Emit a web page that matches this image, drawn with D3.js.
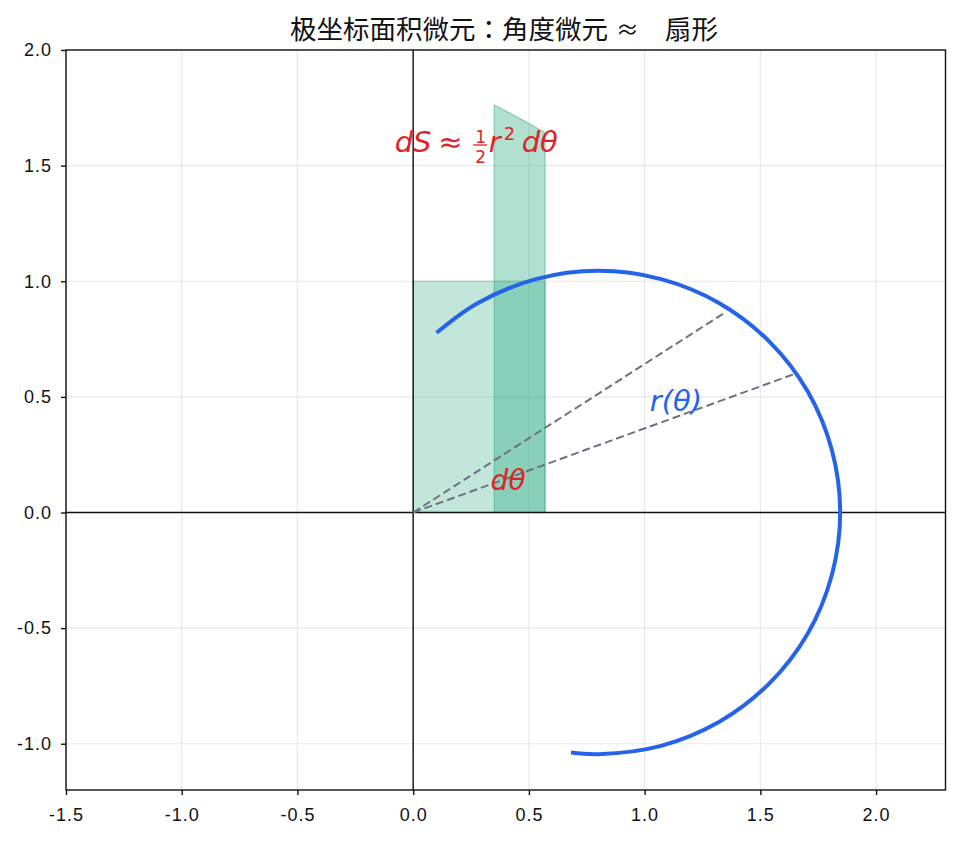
<!DOCTYPE html>
<html>
<head>
<meta charset="utf-8">
<script src="https://cdn.jsdelivr.net/npm/d3@7"></script>
<style>
  body { margin: 0; background: #fff; }
  svg { display: block; }
</style>
</head>
<body>
<div id="chart"></div>
<script>
// tick values
const xTicks = [-1.5, -1.0, -0.5, 0.0, 0.5, 1.0, 1.5, 2.0];
const yTicks = [-1.0, -0.5, 0.0, 0.5, 1.0, 1.5, 2.0];

// r(theta) curve, points
const curveX = [0.101, 0.278, 0.530, 0.800, 1.071, 1.323, 1.539, 1.705, 1.809, 1.845, 1.809, 1.705, 1.539, 1.323, 1.071, 0.800, 0.682];
const curveY = [0.777, 0.905, 1.009, 1.045, 1.009, 0.905, 0.739, 0.523, 0.270, 0.000, -0.270, -0.523, -0.739, -0.905, -1.009, -1.045, -1.038];

// two rays bounding d-theta
const rayX = [1.352, 1.650];
const rayY = [0.868, 0.600];

// shaded regions
const boxX = [0, 0.57];
const boxY = [0, 1.0];
const stripX = [0.35, 0.35, 0.46, 0.57, 0.57];
const stripY = [0, 1.762, 1.705, 1.643, 0];

const W = 960, H = 841;
const m = { left: 66, right: 945.5, top: 50, bottom: 790 };

const x = d3.scaleLinear().domain([-1.5, 2.3]).range([m.left, m.right]);
const y = d3.scaleLinear().domain([-1.2, 2.0]).range([m.bottom, m.top]);

const svg = d3.select("#chart").append("svg")
  .attr("width", W).attr("height", H);

const tickFont = "'Liberation Sans', Arial, sans-serif";
const fmt = d => d.toFixed(1);

// grid
const grid = svg.append("g");
grid.selectAll("line.gx").data(xTicks).join("line")
  .attr("x1", d => x(d)).attr("x2", d => x(d))
  .attr("y1", m.top).attr("y2", m.bottom)
  .attr("stroke", "#e8e8e8").attr("stroke-width", 1.2);
grid.selectAll("line.gy").data(yTicks).join("line")
  .attr("y1", d => y(d)).attr("y2", d => y(d))
  .attr("x1", m.left).attr("x2", m.right)
  .attr("stroke", "#e8e8e8").attr("stroke-width", 1.2);

const teal = "#26a67c";

// rectangle under the curve
svg.append("rect")
  .attr("x", x(boxX[0])).attr("y", y(boxY[1]))
  .attr("width", x(boxX[1]) - x(boxX[0]))
  .attr("height", y(boxY[0]) - y(boxY[1]))
  .attr("fill", teal).attr("fill-opacity", 0.28)
  .attr("stroke", teal).attr("stroke-opacity", 0.35).attr("stroke-width", 1.2);

// thin strip
const stripPts = stripX.map((d, i) => [x(d), y(stripY[i])]);
svg.append("path")
  .attr("d", d3.line()(stripPts) + "Z")
  .attr("fill", teal).attr("fill-opacity", 0.36)
  .attr("stroke", teal).attr("stroke-opacity", 0.45).attr("stroke-width", 1.2);

// axes lines through origin
svg.append("line")
  .attr("x1", m.left).attr("x2", m.right).attr("y1", y(0)).attr("y2", y(0))
  .attr("stroke", "#111").attr("stroke-width", 1.4);
svg.append("line")
  .attr("x1", x(0)).attr("x2", x(0)).attr("y1", m.top).attr("y2", m.bottom)
  .attr("stroke", "#111").attr("stroke-width", 1.4);

// rays
rayX.forEach((d, i) => {
  svg.append("line")
    .attr("x1", x(0)).attr("y1", y(0))
    .attr("x2", x(d)).attr("y2", y(rayY[i]))
    .attr("stroke", "#6b7280").attr("stroke-width", 2)
    .attr("stroke-dasharray", "8,4");
});

// curve
const curvePts = curveX.map((d, i) => [x(d), y(curveY[i])]);
svg.append("path")
  .attr("d", d3.line().curve(d3.curveCatmullRom)(curvePts))
  .attr("fill", "none").attr("stroke", "#2563eb").attr("stroke-width", 4);

// frame
svg.append("rect")
  .attr("x", m.left).attr("y", m.top)
  .attr("width", m.right - m.left).attr("height", m.bottom - m.top)
  .attr("fill", "none").attr("stroke", "#111").attr("stroke-width", 1.4);

// axes
const xAxis = svg.append("g").attr("transform", `translate(0,${m.bottom})`)
  .call(d3.axisBottom(x).tickValues(xTicks).tickFormat(fmt).tickSize(5).tickPadding(13));
const yAxis = svg.append("g").attr("transform", `translate(${m.left},0)`)
  .call(d3.axisLeft(y).tickValues(yTicks).tickFormat(fmt).tickSize(5).tickPadding(9));
[xAxis, yAxis].forEach(a => {
  a.select(".domain").remove();
  a.selectAll("line").attr("stroke", "#111").attr("stroke-width", 1.4);
  a.selectAll("text").attr("font-family", tickFont).attr("font-size", 18)
    .attr("letter-spacing", 1).attr("fill", "#111");
});

// title
const titleFont = "'Noto Sans CJK TC', 'Noto Sans CJK SC', sans-serif";
const title = svg.append("g").attr("font-family", titleFont)
  .attr("font-size", 26.5).attr("fill", "#111");
title.append("text").attr("x", 290).attr("y", 39).text("极坐标面积微元：角度微元");
title.append("text").attr("x", 627.5).attr("y", 38).attr("text-anchor", "middle")
  .attr("font-size", 23).text("≈");
title.append("text").attr("x", 665).attr("y", 39).text("扇形");

// math labels
const mathFont = "'DejaVu Sans', sans-serif";
const red = "#dc2626";

function piece(g, txt, px, py, size, italic) {
  g.append("text").attr("x", px).attr("y", py)
    .attr("font-family", mathFont).attr("font-size", size)
    .attr("font-style", italic ? "italic" : "normal")
    .text(txt);
}

// dS ≈ 1/2 r^2 dθ
const eq = svg.append("g").attr("fill", red)
  .attr("transform", `translate(${x(-0.08)},${y(1.6) + 9.5})`);
piece(eq, "dS", 0, 0, 29, true);
piece(eq, "≈", 43.5, 0, 29, false);
piece(eq, "1", 80.5, -9, 17, false);
piece(eq, "2", 80.5, 11, 17, false);
eq.append("line").attr("x1", 78.5).attr("x2", 92.5).attr("y1", -7).attr("y2", -7)
  .attr("stroke", red).attr("stroke-width", 1.3);
piece(eq, "r", 94, 0, 29, true);
piece(eq, "2", 109, -12, 18, false);
piece(eq, "dθ", 127, 0, 29, true);

svg.append("text")
  .attr("x", x(1.135)).attr("y", y(0.48) + 9)
  .attr("text-anchor", "middle")
  .attr("font-family", mathFont).attr("font-style", "italic")
  .attr("font-size", 29).attr("fill", "#2563eb")
  .text("r(θ)");

svg.append("text")
  .attr("x", x(0.41)).attr("y", y(0.13) + 8)
  .attr("text-anchor", "middle")
  .attr("font-family", mathFont).attr("font-style", "italic")
  .attr("font-size", 28).attr("fill", red)
  .text("dθ");
</script>
</body>
</html>
